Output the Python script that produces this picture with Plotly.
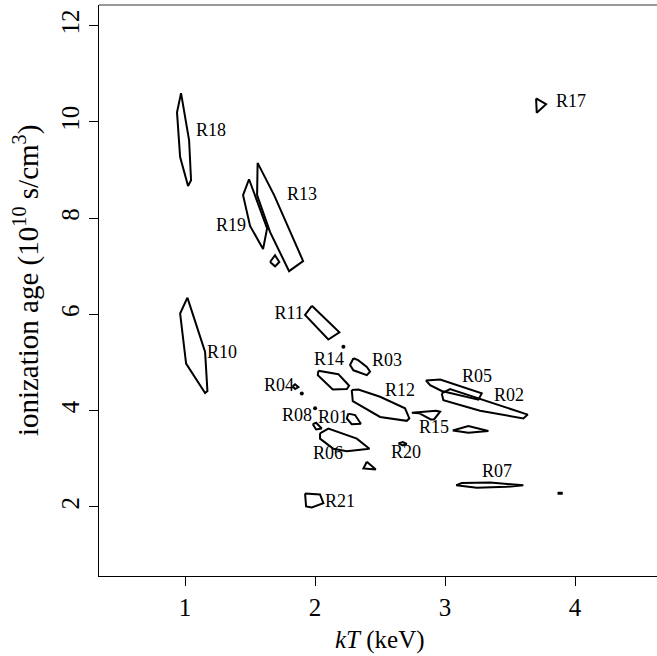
import plotly.graph_objects as go

# --- contour polygons (kT in keV, ionization age in 1e10 s/cm^3) ---
R18 = ([0.969, 0.938, 0.962, 1.023, 1.046, 1.031], [10.60, 10.20, 9.27, 8.67, 8.79, 9.62])
R13 = ([1.558, 1.554, 1.654, 1.800, 1.908, 1.685], [9.15, 8.48, 7.71, 6.90, 7.11, 8.48])
R19 = ([1.492, 1.446, 1.500, 1.600, 1.631], [8.81, 8.48, 7.84, 7.36, 7.79])
R13b = ([1.654, 1.692, 1.725, 1.692], [7.09, 7.23, 7.09, 7.00])
R10 = ([1.018, 0.962, 1.008, 1.154, 1.172, 1.154], [6.35, 6.02, 4.98, 4.37, 4.41, 5.22])
R11 = ([1.975, 1.923, 2.102, 2.187], [6.18, 5.99, 5.48, 5.63])
R14 = ([2.025, 2.021, 2.136, 2.244, 2.262, 2.179], [4.83, 4.74, 4.44, 4.45, 4.52, 4.76])
R03 = ([2.295, 2.269, 2.295, 2.398, 2.423, 2.398, 2.331], [5.09, 4.95, 4.84, 4.74, 4.81, 4.91, 5.05])
R12 = ([2.282, 2.290, 2.500, 2.705, 2.725, 2.692, 2.500, 2.333], [4.43, 4.20, 3.87, 3.79, 3.84, 4.05, 4.29, 4.44])
R05 = ([2.852, 2.885, 2.974, 3.256, 3.282, 2.962], [4.63, 4.53, 4.41, 4.23, 4.36, 4.65])
R02 = ([2.974, 2.987, 3.269, 3.602, 3.636, 3.423, 3.038], [4.36, 4.22, 4.00, 3.84, 3.92, 4.11, 4.45])
R15b = ([2.744, 2.800, 2.890, 2.915, 2.962, 2.930], [3.96, 3.95, 3.82, 3.82, 3.98, 4.00])
R15 = ([3.059, 3.179, 3.333, 3.179], [3.59, 3.68, 3.58, 3.54])
R20 = ([2.641, 2.675, 2.705, 2.675], [3.32, 3.35, 3.31, 3.28])
R07 = ([3.085, 3.128, 3.346, 3.602, 3.474, 3.244], [2.45, 2.50, 2.51, 2.45, 2.42, 2.40])
R17 = ([3.700, 3.777, 3.705], [10.49, 10.37, 10.19])
R01 = ([2.256, 2.244, 2.282, 2.352, 2.308], [3.94, 3.84, 3.72, 3.73, 3.91])
R08 = ([1.982, 2.008, 2.051, 2.008], [3.72, 3.75, 3.63, 3.61])
R06 = ([2.038, 2.038, 2.141, 2.244, 2.418, 2.321, 2.102], [3.53, 3.42, 3.21, 3.16, 3.21, 3.42, 3.63])
R06b = ([2.398, 2.372, 2.467], [2.94, 2.80, 2.78])
R21 = ([1.923, 1.931, 1.975, 2.064, 2.038], [2.28, 2.01, 1.99, 2.08, 2.26])
R04 = ([1.828, 1.846, 1.872, 1.846], [4.51, 4.55, 4.49, 4.45])
R07b = ([3.865, 3.905], [2.285, 2.285])

contours = [R18, R13, R19, R13b, R10, R11, R14, R03, R12, R05, R02, R15b, R15,
            R20, R07, R17, R01, R08, R06, R06b, R21, R04]

# tiny isolated spots
dot_kT = [2.218, 2.000, 1.898]
dot_tau = [5.33, 4.05, 4.36]

# region labels
label_names = ["R18", "R13", "R19", "R11", "R10", "R14", "R03", "R04", "R12", "R05",
               "R02", "R08", "R01", "R15", "R06", "R20", "R07", "R21", "R17"]
label_kT = [1.20, 1.90, 1.354, 1.80, 1.285, 2.108, 2.554, 1.723, 2.654, 3.246,
            3.492, 1.862, 2.138, 2.915, 2.10, 2.70, 3.40, 2.192, 3.969]
label_tau = [9.81, 8.48, 7.82, 5.99, 5.18, 5.05, 5.03, 4.51, 4.40, 4.70,
             4.30, 3.89, 3.84, 3.64, 3.10, 3.12, 2.72, 2.09, 10.40]

x_ticks = [1, 2, 3, 4]
y_ticks = [2, 4, 6, 8, 10, 12]

FONT = "Liberation Serif"

fig = go.Figure()
for kt, tau in contours:
    fig.add_trace(go.Scatter(x=list(kt) + [kt[0]], y=list(tau) + [tau[0]], mode="lines",
                             line=dict(color="black", width=2), hoverinfo="skip",
                             showlegend=False))
fig.add_trace(go.Scatter(x=list(R07b[0]), y=list(R07b[1]), mode="lines",
                         line=dict(color="black", width=3), showlegend=False))
fig.add_trace(go.Scatter(x=dot_kT, y=dot_tau, mode="markers",
                         marker=dict(color="black", size=4), showlegend=False))
fig.add_trace(go.Scatter(x=label_kT, y=label_tau, mode="text", text=label_names,
                         textfont=dict(family=FONT, size=18, color="black"),
                         showlegend=False))

fig.update_layout(
    width=657, height=656,
    margin=dict(l=99, r=0, t=5, b=80, autoexpand=False),
    paper_bgcolor="white", plot_bgcolor="white",
    font=dict(family=FONT, color="black"),
    xaxis=dict(range=[0.338, 4.63], tickvals=x_ticks, ticks="outside", ticklen=9,
               tickcolor="black", showline=True, linecolor="black", linewidth=1,
               showgrid=False, zeroline=False, tickfont=dict(family=FONT, size=25),
               automargin=False),
    yaxis=dict(range=[0.566, 12.43], tickvals=y_ticks, ticks="outside", ticklen=9,
               tickcolor="black", showline=True, linecolor="black", linewidth=1,
               showgrid=False, zeroline=False, tickfont=dict(family=FONT, size=25),
               tickangle=-90, automargin=False),
    shapes=[dict(type="line", xref="paper", yref="paper", x0=0, x1=1, y0=1, y1=1,
                 line=dict(color="#777777", width=1.5))],
    annotations=[
        dict(text="<i>kT</i> (keV)", xref="paper", yref="paper", x=0.504, y=-0.1126,
             xanchor="center", yanchor="middle", showarrow=False,
             font=dict(family=FONT, size=25, color="black")),
        dict(text="ionization age (10<sup>10</sup> s/cm<sup>3</sup>)", xref="paper",
             yref="paper", x=-0.131, y=0.518, xanchor="center", yanchor="middle",
             textangle=-90, showarrow=False,
             font=dict(family=FONT, size=29, color="black")),
    ],
)

fig.write_html("out.html", config={"displayModeBar": False},
               post_script="document.body.style.margin='0';document.body.style.overflow='hidden';")
